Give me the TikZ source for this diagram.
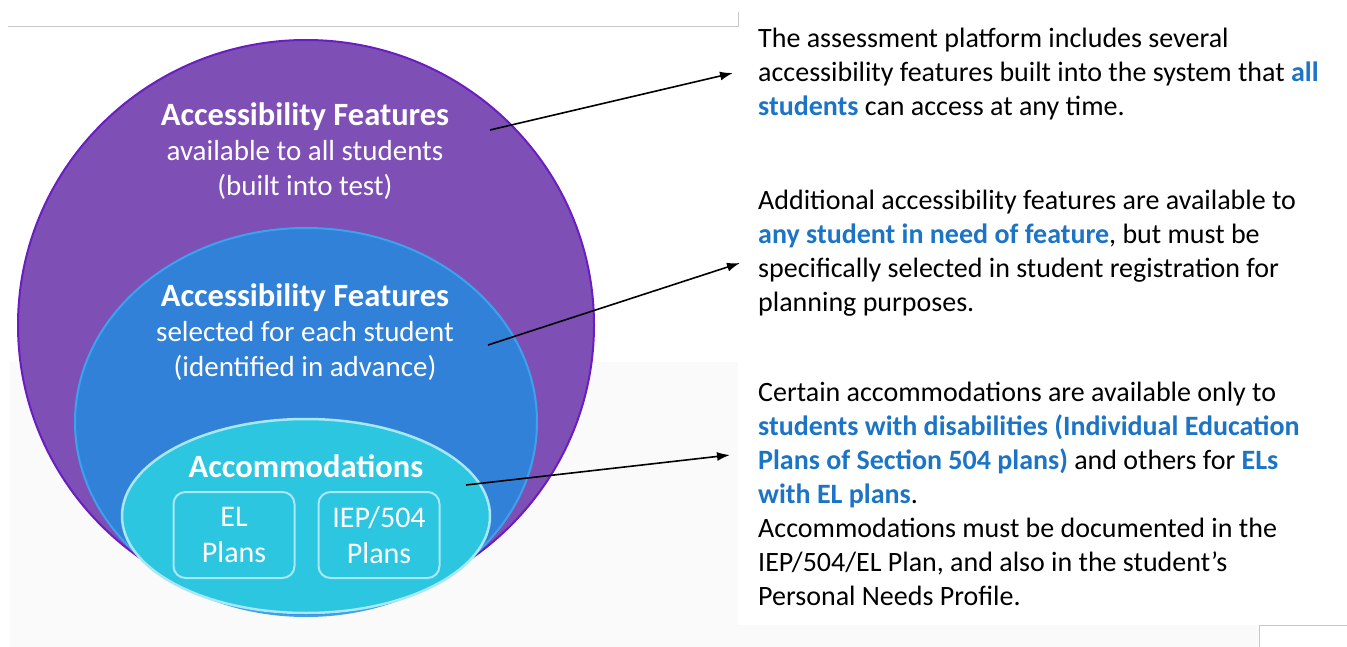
\documentclass[tikz,border=0pt]{standalone}
\usepackage{fontspec}
\setmainfont{Carlito}
\usetikzlibrary{
  shapes.geometric,
  arrows.meta,
  positioning,
}
\definecolor{purplefill}{HTML}{7E50B6}
\definecolor{purpleline}{HTML}{6A1EC2}
\definecolor{bluefill}{HTML}{3281D8}
\definecolor{blueline}{HTML}{3DA2EE}
\definecolor{cyanfill}{HTML}{2DC6E1}
\definecolor{cyanline}{HTML}{A8E8F3}
\definecolor{hlblue}{HTML}{1B74C6}
\definecolor{rulegray}{HTML}{C8C8C8}
\newcommand{\hl}[1]{\textcolor{hlblue}{\bfseries #1}}
\newcommand{\ctitle}[1]{{\fontsize{32.5}{38}\selectfont\bfseries #1}}
\tikzset{
  layer/.style={
    ellipse,
    inner sep=0pt,
    line width=2pt,
  },
  plan/.style={
    rectangle,
    rounded corners=12pt,
    draw=cyanline,
    line width=2pt,
    minimum width=121pt,
    minimum height=86pt,
  },
  circtext/.style={
    text=white,
    align=center,
    font=\fontsize{29}{35}\selectfont,
  },
  note/.style={
    anchor=west,
    inner sep=0pt,
    align=left,
    font=\fontsize{28}{34}\selectfont,
  },
  arrow/.style={
    line width=1.6pt,
    -{Latex[length=13pt, width=9pt]},
  },
}

\begin{document}
\begin{tikzpicture}[x=1pt, y=-1pt]

  \useasboundingbox (0,0) rectangle (1347,647);

  % Page background
  \fill[black!2] (10,362) rectangle (738,647);
  \fill[black!2] (738,625) rectangle (1259,647);
  \draw[rulegray, line width=1pt] (1259,647) |- (1347,625);
  \draw[rulegray, line width=1pt] (8,27) -- (738,27) -- (738,12);

  % Nested layers
  \node (all) [layer, draw=purpleline, fill=purplefill,
    minimum width=576pt, minimum height=570pt] at (306,325) {};
  \node (select) [layer, draw=blueline, fill=bluefill,
    minimum width=462pt, minimum height=388pt] at (306,422) {};
  \node (accom) [layer, draw=cyanline, fill=cyanfill, line width=2.5pt,
    minimum width=368pt, minimum height=194pt] at (306,516) {};

  % Layer texts
  \node (all_txt) [circtext] at (305,151)
    {\ctitle{Accessibility Features}\\available to all students\\(built into test)};
  \node (select_txt) [circtext] at (305,332)
    {\ctitle{Accessibility Features}\\selected for each student\\(identified in advance)};
  \node (accom_txt) [circtext] at (306,466) {\ctitle{Accommodations}};

  % Plans
  \node (el) [plan] at (234,535) {};
  \node (iep) [plan, right=22pt of el] {};
  \node [circtext, font=\fontsize{30}{36}\selectfont] at (el) {EL\\Plans};
  \node [circtext, font=\fontsize{30}{36}\selectfont] at (iep) {IEP/504\\Plans};

  % Explanations
  \node (note_all) [note] at (758,74)
    {The assessment platform includes several\\
     accessibility features built into the system that \hl{all}\\
     \hl{students} can access at any time.};
  \node (note_select) [note] at (758,253)
    {Additional accessibility features are available to\\
     \hl{any student in need of feature}, but must be\\
     specifically selected in student registration for\\
     planning purposes.};
  \node (note_accom) [note] at (758,494)
    {Certain accommodations are available only to\\
     \hl{students with disabilities (Individual Education}\\
     \hl{Plans of Section 504 plans)} and others for \hl{ELs}\\
     \hl{with EL plans}.\\
     Accommodations must be documented in the\\
     IEP/504/EL Plan, and also in the student’s\\
     Personal Needs Profile.};

  % Arrows
  \coordinate (all_from) at (490,130);
  \coordinate (all_to) at (733,73);
  \coordinate (select_from) at (488,345);
  \coordinate (select_to) at (740,263);
  \coordinate (accom_from) at (466,485);
  \coordinate (accom_to) at (730,455);

  \draw [arrow] (all_from) -- (all_to);
  \draw [arrow] (select_from) -- (select_to);
  \draw [arrow] (accom_from) -- (accom_to);

\end{tikzpicture}
\end{document}
